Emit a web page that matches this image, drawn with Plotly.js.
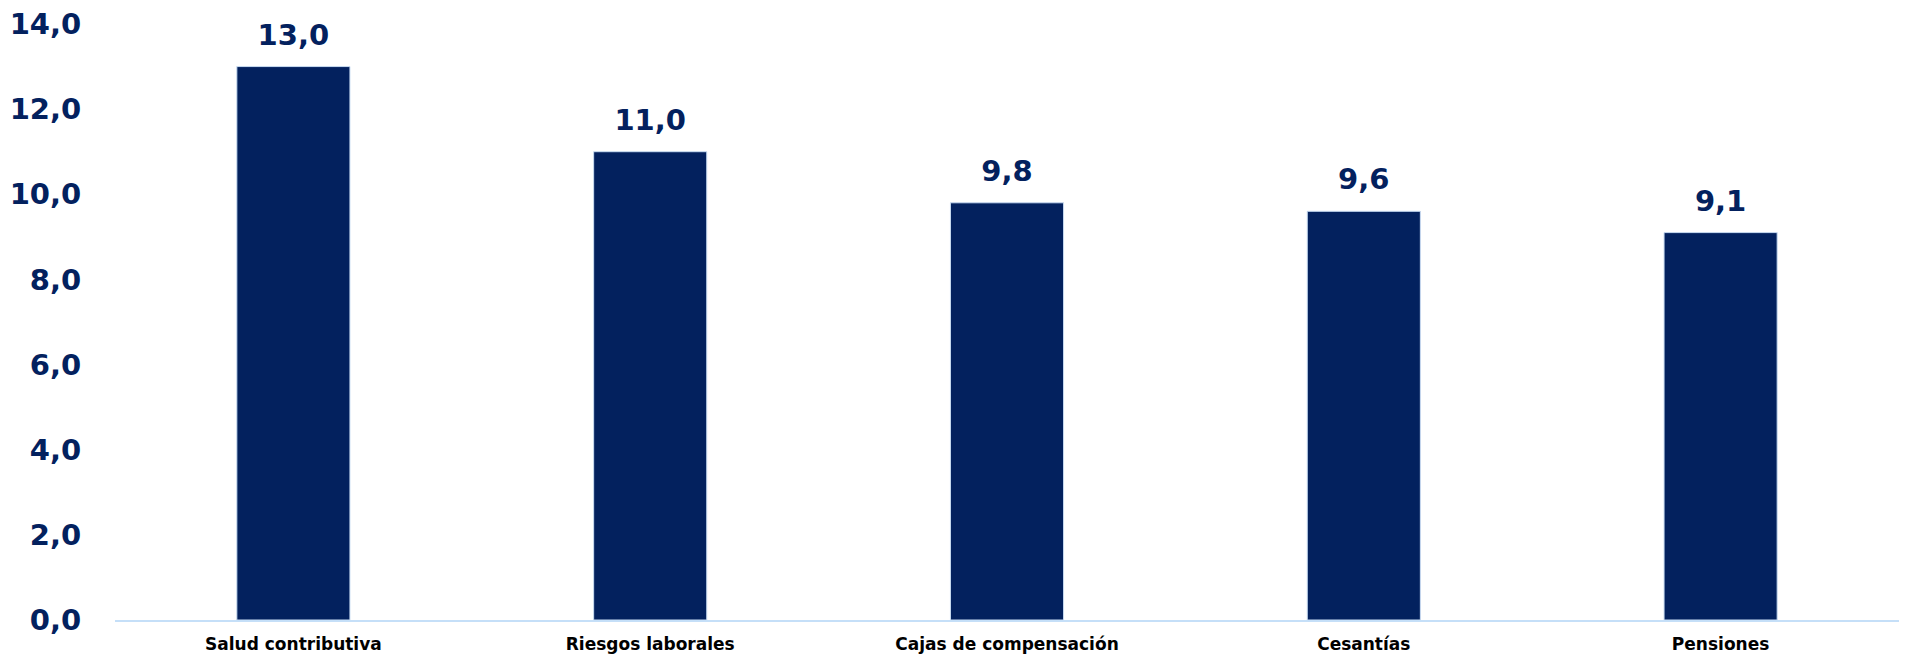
<!DOCTYPE html>
<html>
<head>
<meta charset="utf-8">
<script src="https://cdn.plot.ly/plotly-3.0.1.min.js"></script>
<style>html,body{margin:0;padding:0;background:#fff;}#chart{width:1907px;height:657px;}</style>
</head>
<body>
<div id="chart"></div>
<script>
const categories = ["Salud contributiva", "Riesgos laborales", "Cajas de compensación", "Cesantías", "Pensiones"];
const values = [13.0, 11.0, 9.8, 9.6, 9.1];
const tickValues = [0, 2, 4, 6, 8, 10, 12, 14];
const tickLabels = ["0,0", "2,0", "4,0", "6,0", "8,0", "10,0", "12,0", "14,0"];

const navy = "#03215E";
const numFont = "'DejaVu Sans', sans-serif";
const data = [{
  type: "bar",
  x: categories,
  y: values,
  marker: {color: navy, line: {color: "#C9DCF2", width: 1}},
  hoverinfo: "none"
}, {
  type: "scatter",
  mode: "markers+text",
  x: categories,
  y: values,
  marker: {size: 22, opacity: 0},
  texttemplate: "%{y:.1f}",
  textposition: "top center",
  cliponaxis: false,
  textfont: {family: numFont, size: 29, color: navy, weight: 600},
  hoverinfo: "none"
}];
const layout = {
  width: 1907, height: 657,
  margin: {l: 115, r: 8, t: 24, b: 37},
  separators: ",.",
  paper_bgcolor: "#fff", plot_bgcolor: "#fff",
  bargap: 0.683,
  showlegend: false,
  xaxis: {
    showline: true, linecolor: "#C5DFF8", linewidth: 2,
    showgrid: false, zeroline: false,
    ticks: "outside", ticklen: 8, tickcolor: "rgba(0,0,0,0)",
    tickfont: {family: numFont, size: 17, color: "#000", weight: 700},
    automargin: false
  },
  yaxis: {
    range: [0, 14], showgrid: false, zeroline: false, showline: false,
    tickvals: tickValues, ticktext: tickLabels,
    ticks: "outside", ticklen: 27, tickcolor: "rgba(0,0,0,0)",
    tickfont: {family: numFont, size: 29, color: navy, weight: 600},
    automargin: false
  }
};
Plotly.newPlot("chart", data, layout, {displayModeBar: false, staticPlot: true});
</script>
</body>
</html>
